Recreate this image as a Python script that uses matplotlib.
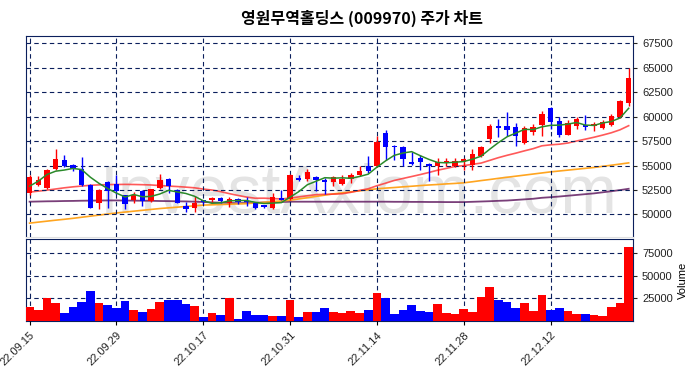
import numpy as np
import pandas as pd
import matplotlib
matplotlib.use("Agg")
import matplotlib.pyplot as plt

plt.rcParams['font.family'] = ['Liberation Sans', 'DejaVu Sans']

# trading days 22.09.15 ~ 22.12.23 (KRX holidays 10.03, 10.10)
dates = pd.bdate_range("2022-09-15", "2022-12-23", freq="C",
                       holidays=["2022-10-03", "2022-10-10"])
date_labels = [d.strftime("%y.%m.%d") for d in dates]

opens = [52200, 53030, 52680, 54660, 55610, 55100, 54660, 53030, 51190, 53300,
         53060, 51940, 51460, 52380, 51360, 52720, 53640, 52480, 50850, 50680,
         51450, 51460, 51700, 51120, 51600, 51360, 51120, 50920, 50680, 51630,
         51530, 53740, 53640, 53810, 53500, 53300, 53160, 53670, 54010, 55000,
         54930, 58330, 57040, 56900, 55410, 55750, 55170, 54930, 55270, 54930,
         55340, 55100, 55950, 57760, 59080, 59080, 58910, 57310, 58400, 59180,
         60880, 59520, 58160, 59010, 59180, 59010, 58840, 59110, 59970, 61400]
highs = [54000, 53900, 54650, 56700, 56050, 55200, 55920, 53100, 52600, 53400,
         53980, 52000, 52280, 52450, 52650, 54150, 53700, 52550, 51250, 51870,
         51500, 51800, 51800, 51800, 51700, 51800, 51300, 50950, 52210, 52480,
         54100, 53980, 54660, 53900, 53700, 53950, 54080, 54250, 54930, 56020,
         58060, 58670, 57140, 57000, 56360, 56120, 55270, 55780, 55780, 55780,
         55750, 56700, 56950, 59290, 59800, 60510, 59300, 59000, 59290, 60540,
         61000, 59970, 59620, 60000, 60200, 59500, 59690, 60300, 61660, 65000]
lows = [52000, 52890, 52580, 54560, 54870, 54420, 52890, 50680, 50510, 50610,
        52040, 50580, 51120, 50850, 51300, 52620, 52140, 51120, 50230, 50230,
        51100, 51150, 51150, 50790, 51050, 50900, 50600, 50680, 50600, 51460,
        51500, 53400, 53400, 52380, 52040, 52890, 53000, 53230, 53900, 54250,
        54900, 55610, 55610, 54930, 55100, 54590, 53400, 53980, 55000, 54800,
        54590, 54500, 55900, 57310, 57930, 58060, 56970, 57250, 58160, 58060,
        58740, 57950, 58100, 58740, 58670, 58500, 58700, 59000, 59900, 61120]
closes = [53850, 53570, 54590, 55680, 55000, 54660, 53000, 50680, 52520, 52350,
          52350, 51020, 51940, 51360, 52550, 53570, 52890, 51120, 50580, 51120,
          51260, 51630, 51330, 51600, 51260, 51290, 50680, 50750, 51800, 51500,
          54080, 53500, 54320, 53570, 53300, 53850, 53670, 54080, 54490, 54490,
          57420, 56900, 56900, 55680, 55200, 55340, 55000, 55340, 55510, 55510,
          55680, 56190, 56900, 59080, 58880, 58670, 58060, 58810, 58950, 60310,
          59420, 58160, 59350, 59770, 58980, 59250, 59420, 60100, 61560, 63950]
volumes = [15440, 12130, 25360, 19850, 8820, 15440, 20950, 33080, 19850, 17640,
           14340, 22060, 12130, 9930, 13230, 20950, 23160, 23160, 18750, 16540,
           4410, 8820, 6620, 25360, 2210, 11030, 6620, 6620, 5510, 5510,
           23160, 4410, 9930, 9930, 14340, 9930, 8820, 11030, 8820, 12130,
           30880, 25360, 7720, 12130, 17640, 11030, 9930, 18750, 8820, 7720,
           13230, 9930, 26470, 37500, 23160, 20950, 14340, 19850, 11030, 28670,
           12130, 14340, 11030, 7720, 7720, 6620, 5510, 15440, 19850, 82300]

ma5 = [52890, 53400, 54080, 54420, 54538, 54700, 54586, 53804, 53172, 52642,
       52180, 51784, 52036, 51804, 51844, 52088, 52462, 52298, 52142, 51856,
       51394, 51142, 51184, 51388, 51416, 51422, 51232, 51116, 51156, 51204,
       51762, 52326, 53040, 53394, 53754, 53708, 53742, 53694, 53878, 54116,
       54830, 55476, 56040, 56278, 56420, 56004, 55624, 55312, 55278, 55340,
       55408, 55646, 55958, 56672, 57346, 57944, 58318, 58700, 58674, 58960,
       59110, 59130, 59238, 59402, 59136, 59102, 59354, 59504, 59862, 60856]
ma20 = [52280, 52380, 52480, 52600, 52720, 52820, 52900, 52980, 53020, 53050,
        53060, 53070, 53060, 53040, 53010, 52950, 52900, 52850, 52790, 52720,
        52591, 52494, 52331, 52127, 51940, 51771, 51655, 51659, 51623, 51580,
        51667, 51791, 51910, 52020, 52058, 52072, 52111, 52259, 52454, 52623,
        52931, 53194, 53473, 53677, 53874, 54076, 54292, 54522, 54707, 54908,
        54988, 55122, 55251, 55527, 55806, 56047, 56266, 56503, 56726, 57017,
        57117, 57180, 57302, 57507, 57696, 57891, 58112, 58350, 58653, 59075]
ma60 = [49110, 49210, 49310, 49410, 49500, 49600, 49710, 49820, 49930, 50040,
        50150, 50240, 50330, 50420, 50510, 50600, 50670, 50740, 50810, 50880,
        50950, 50980, 51010, 51040, 51070, 51100, 51170, 51240, 51310, 51380,
        51450, 51580, 51710, 51840, 51970, 52100, 52200, 52310, 52410, 52520,
        52620, 52690, 52750, 52820, 52880, 52950, 53010, 53060, 53120, 53170,
        53230, 53340, 53460, 53570, 53690, 53800, 53910, 54020, 54130, 54240,
        54350, 54440, 54530, 54620, 54710, 54800, 54920, 55030, 55150, 55270]
ma120 = [51300, 51320, 51340, 51350, 51370, 51380, 51400, 51410, 51420, 51430,
         51430, 51420, 51410, 51400, 51390, 51370, 51360, 51340, 51330, 51300,
         51270, 51230, 51200, 51170, 51150, 51170, 51190, 51220, 51250, 51270,
         51300, 51300, 51300, 51300, 51300, 51300, 51300, 51300, 51300, 51300,
         51300, 51300, 51290, 51290, 51280, 51280, 51270, 51270, 51260, 51260,
         51260, 51290, 51320, 51350, 51390, 51420, 51480, 51540, 51600, 51700,
         51760, 51830, 51910, 51990, 52070, 52150, 52260, 52370, 52490, 52620]

navy = "#0b1f5c"
x = np.arange(len(closes))
o = np.array(opens); c = np.array(closes)
up = c >= o
colors = np.where(up, "#ff0000", "#0000ff")

fig = plt.figure(figsize=(6.98, 3.78), dpi=100)
ax = fig.add_axes([0.0368, 0.3720, 0.8701, 0.5328])
axv = fig.add_axes([0.0368, 0.1508, 0.8701, 0.2161], sharex=ax)

# watermark
ax.text(0.548, 0.124, "InvestAxiom.com", transform=ax.transAxes, ha="center", va="baseline",
        fontsize=49, color="#d9d9d9", alpha=0.7, zorder=0, family="Liberation Sans",
        clip_on=True)

# moving averages
ax.plot(x, ma120, color="#6b2a6b", lw=1.3, alpha=0.9, zorder=2)
ax.plot(x, ma60, color="#ffa520", lw=1.2, zorder=2)
ax.plot(x, ma20, color="#ff3030", lw=1.2, alpha=0.8, zorder=2)
ax.plot(x, ma5, color="#2a8a2a", lw=1.1, zorder=4)

# candles
ax.vlines(x, lows, highs, colors=colors, lw=1, zorder=3)
ax.bar(x, np.abs(c - o), bottom=np.minimum(o, c), width=0.62, color=colors, zorder=3)

axv.bar(x, volumes, width=1.0, color=colors, zorder=3)

for a in (ax, axv):
    a.grid(True, color=navy, ls=(0, (4, 3)), lw=0.8, zorder=1)
    for s in a.spines.values():
        s.set_color(navy)
    a.yaxis.tick_right()
    a.tick_params(axis="y", labelsize=8, colors="#222222", length=3)
    a.set_axisbelow(False)
ax.spines["bottom"].set_color("#e0e0e0")

ax.set_ylim(47650, 68250)
ax.set_yticks(np.arange(50000, 67501, 2500))
ax.tick_params(axis="x", labelbottom=False, length=0)

axv.set_ylim(0, max(volumes) * 1.1)
axv.set_yticks([25000, 50000, 75000])
axv.yaxis.set_label_position("right")
axv.set_ylabel("Volume", fontsize=8, labelpad=4)

ticks = list(range(0, len(x), 10))
axv.set_xticks(ticks)
axv.set_xticklabels([date_labels[i] for i in ticks], rotation=45, ha="right",
                    rotation_mode="anchor", fontsize=8, color="#222222")
axv.tick_params(axis="x", length=3)
axv.set_xlim(-0.45, len(x) - 0.5)

fig.suptitle("영원무역홀딩스 (009970) 주가 차트", x=0.519, y=0.975, fontsize=11.5,
             fontweight="bold", family=["Noto Sans CJK KR", "DejaVu Sans"])

fig.savefig("out.png", dpi=100)
